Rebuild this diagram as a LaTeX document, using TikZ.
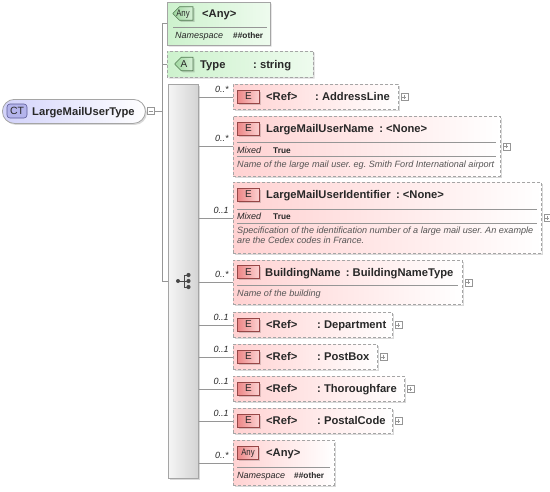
\documentclass[tikz,border=0pt]{standalone}
\usepackage{fontspec}
\setmainfont{Liberation Sans}
\newfontfamily\narrowfont[FakeStretch=0.82]{Liberation Sans}
\usetikzlibrary{shapes.misc,shadows}
\definecolor{bordergray}{RGB}{165,165,165}
\definecolor{elempink}{RGB}{255,210,210}
\definecolor{badgered}{RGB}{236,135,135}
\definecolor{badgelight}{RGB}{252,210,210}
\definecolor{badgeborder}{RGB}{150,70,70}
\definecolor{anygreen}{RGB}{205,242,205}
\definecolor{anylight}{RGB}{238,251,238}
\definecolor{greenbadge}{RGB}{160,215,160}
\definecolor{greenlight}{RGB}{215,240,215}
\definecolor{greenborder}{RGB}{80,120,80}
\definecolor{ctfill}{RGB}{210,210,250}
\definecolor{ctbadge}{RGB}{180,180,235}
\definecolor{ctborder}{RGB}{90,90,150}
\definecolor{linegray}{RGB}{150,150,150}
\definecolor{txt}{RGB}{40,40,40}
\definecolor{desctxt}{RGB}{85,85,85}
\definecolor{plusgray}{RGB}{150,150,150}
\begin{document}
\frenchspacing
\begin{tikzpicture}[x=1pt,y=-1pt,
  conn/.style={draw=linegray, line width=0.8pt},
  sepline/.style={draw=linegray, line width=0.7pt},
  shad/.style={drop shadow={shadow xshift=1.5pt, shadow yshift=-1.5pt, fill=black, opacity=0.15}},
  elembox/.style={rectangle, draw=bordergray, dash pattern=on 3pt off 2pt, line width=0.8pt,
    left color=elempink, right color=white, anchor=north west, inner sep=0pt, shad},
  ebadge/.style={rectangle, draw=badgeborder, line width=0.6pt, left color=badgered, right color=badgelight,
    minimum width=22pt, minimum height=13pt, inner sep=0pt, text depth=0pt, font=\fontsize{10}{11}\selectfont, text=txt, shad},
  gbadge/.style={chamfered rectangle, chamfered rectangle corners={north west,south west}, chamfered rectangle xsep=3pt,
    draw=greenborder, line width=0.6pt, left color=greenbadge, right color=greenlight,
    minimum height=12pt, inner sep=0pt, text depth=0pt, text=txt, shad},
  anyfont/.style={font=\narrowfont\fontsize{9.5}{10}\selectfont},
  hdr/.style={anchor=base west, inner sep=0pt, font=\bfseries\fontsize{11.2}{13}\selectfont, text=txt},
  small/.style={anchor=base west, inner sep=0pt, font=\itshape\fontsize{9}{10}\selectfont, text=txt},
  smallb/.style={anchor=base west, inner sep=0pt, font=\bfseries\fontsize{8.3}{10}\selectfont, text=txt},
  desc/.style={anchor=base west, inner sep=0pt, font=\itshape\fontsize{9.1}{11}\selectfont, text=desctxt},
  mult/.style={pos=1, anchor=south east, xshift=-4pt, yshift=4pt, inner sep=0pt, font=\itshape\fontsize{9}{10}\selectfont, text=txt},
  plusbox/.style={rectangle, draw=plusgray, line width=0.5pt, fill=white, minimum size=7pt, inner sep=0pt,
    path picture={\draw[plusgray, line width=0.5pt] ([xshift=1.5pt]path picture bounding box.west) -- ([xshift=-1.5pt]path picture bounding box.east)
      ([yshift=-1.5pt]path picture bounding box.north) -- ([yshift=1.5pt]path picture bounding box.south);}},
  minusbox/.style={rectangle, draw=plusgray, line width=0.5pt, fill=white, minimum size=7pt, inner sep=0pt,
    path picture={\draw[plusgray, line width=0.5pt] ([xshift=1.5pt]path picture bounding box.west) -- ([xshift=-1.5pt]path picture bounding box.east);}}
]
\useasboundingbox (0,0) rectangle (550,491);

% ---- complex type
\node[rectangle, rounded corners=12pt, draw=bordergray, line width=0.8pt, left color=ctfill, right color=white,
  minimum width=143pt, minimum height=24pt, anchor=north west, inner sep=0pt, shad] (ct) at (2,99) {};
\node[rectangle, rounded corners=3pt, draw=ctborder, line width=0.6pt, fill=ctbadge, minimum width=20pt, minimum height=14pt,
  inner sep=0pt, text depth=0pt, font=\fontsize{10.5}{11}\selectfont, text=txt] (ctb) at (17,111) {CT};
\node[hdr] (ctt) at (32,115) {LargeMailUserType};
\node[minusbox] (ctm) at (150.5,111) {};
\coordinate (tr) at (162,111);

% ---- any (top)
\node[chamfered rectangle, chamfered rectangle corners={north west,south west}, chamfered rectangle xsep=7pt,
  draw=bordergray, line width=0.8pt, left color=anygreen, right color=anylight, minimum width=103pt, minimum height=43pt,
  inner sep=0pt, shad] (any1) at (218.5,23.5) {};
\node[gbadge, minimum width=20pt, anyfont] (any1b) at (183,13.5) {Any};
\node[hdr] (any1t) at (202,17.3) {<Any>};
\draw[sepline] (173,27) -- (267,27);
\node[small] (any1n) at (175,38.5) {Namespace};
\node[smallb] (any1o) at (233,38.5) {\#\#other};

% ---- attribute
\node[chamfered rectangle, chamfered rectangle corners={north west,south west}, chamfered rectangle xsep=7pt,
  draw=bordergray, dash pattern=on 3pt off 2pt, line width=0.8pt, left color=anygreen, right color=anylight,
  minimum width=146pt, minimum height=26pt, inner sep=0pt, shad] (attr) at (240,64) {};
\node[gbadge, minimum width=18pt, font=\fontsize{10}{11}\selectfont] (attrb) at (184,64) {A};
\node[hdr] (attrt) at (200,68) {Type};
\node[hdr] (attrs) at (253,68) {: string};

% ---- sequence
\node[rectangle, draw=bordergray, line width=0.8pt, left color=black!4, right color=black!17, minimum width=30pt,
  minimum height=394pt, anchor=north west, inner sep=0pt, shad] (seq) at (168,84) {};
\coordinate (si) at (184,281);
\draw[txt!85, line width=1pt] (178,281) -- (184,281) (184,275) -- (184,287) (184,275) -- (188,275) (184,281) -- (188,281) (184,287) -- (188,287);
\fill[txt!85] (178,281) circle (2pt) (188.5,275) circle (2.1pt) (188.5,281) circle (2.1pt) (188.5,287) circle (2.1pt);

% ---- trunk connectors
\draw[conn] (ctm.east) -- (tr);
\draw[conn] (any1.west) -- (any1.west -| tr) -- (si -| tr) -- (si -| seq.west);
\draw[conn] (attr.west) -- (attr.west -| tr);

% ---- e1 AddressLine
\node[elembox, minimum width=165pt, minimum height=25pt] (e1) at (233,84) {};
\node[ebadge] (e1b) at (248.5,96.5) {E};
\node[hdr] at (266,100.5) {<Ref>};
\node[hdr] at (315,100.5) {: AddressLine};
\node[plusbox] (e1p) at ([xshift=5.5pt]e1.east) {};
\draw[conn] (e1.west -| seq.east) -- node[mult]{0..*} (e1.west);

% ---- e2 LargeMailUserName
\node[elembox, minimum width=267pt, minimum height=60pt] (e2) at (233,116) {};
\node[ebadge] (e2b) at (248.5,128.5) {E};
\node[hdr] (e2n) at (266,132.5) {LargeMailUserName};
\node[hdr] at ([xshift=5pt]e2n.base east) {: <None>};
\draw[sepline] (237,142.5) -- (496,142.5);
\node[small] at (237,153.3) {Mixed};
\node[smallb] at (273,153.3) {True};
\draw[sepline] (237,156.5) -- (496,156.5);
\node[desc] at (237,167.5) {Name of the large mail user. eg. Smith Ford International airport};
\node[plusbox] (e2p) at ([xshift=5.5pt]e2.east) {};
\draw[conn] (e2.west -| seq.east) -- node[mult]{0..*} (e2.west);

% ---- e3 LargeMailUserIdentifier
\node[elembox, minimum width=308pt, minimum height=71pt] (e3) at (233,182) {};
\node[ebadge] (e3b) at (248.5,194.5) {E};
\node[hdr] (e3n) at (266,198.5) {LargeMailUserIdentifier};
\node[hdr] at ([xshift=5pt]e3n.base east) {: <None>};
\draw[sepline] (237,209) -- (537,209);
\node[small] at (237,219.8) {Mixed};
\node[smallb] at (273,219.8) {True};
\draw[sepline] (237,223) -- (537,223);
\node[desc] at (237,233.5) {Specification of the identification number of a large mail user. An example};
\node[desc] at (237,243.5) {are the Cedex codes in France.};
\node[plusbox] (e3p) at ([xshift=5.5pt]e3.east) {};
\draw[conn] (e3.west -| seq.east) -- node[mult]{0..1} (e3.west);

% ---- e4 BuildingName
\node[elembox, minimum width=229pt, minimum height=44pt] (e4) at (233,260) {};
\node[ebadge] (e4b) at (248.5,272) {E};
\node[hdr] (e4n) at (265,276) {BuildingName};
\node[hdr] at ([xshift=5pt]e4n.base east) {: BuildingNameType};
\draw[sepline] (237,285.5) -- (458,285.5);
\node[desc] at (237,296.5) {Name of the building};
\node[plusbox] (e4p) at ([xshift=5.5pt]e4.east) {};
\draw[conn] (e4.west -| seq.east) -- node[mult]{0..*} (e4.west);

% ---- e5 Department
\node[elembox, minimum width=159pt, minimum height=25pt] (e5) at (233,312) {};
\node[ebadge] (e5b) at (248.5,324.5) {E};
\node[hdr] at (266,328.5) {<Ref>};
\node[hdr] at (317,328.5) {: Department};
\node[plusbox] (e5p) at ([xshift=5.5pt]e5.east) {};
\draw[conn] (e5.west -| seq.east) -- node[mult]{0..1} (e5.west);

% ---- e6 PostBox
\node[elembox, minimum width=144pt, minimum height=25pt] (e6) at (233,344) {};
\node[ebadge] (e6b) at (248.5,356.5) {E};
\node[hdr] at (266,360.5) {<Ref>};
\node[hdr] at (317,360.5) {: PostBox};
\node[plusbox] (e6p) at ([xshift=5.5pt]e6.east) {};
\draw[conn] (e6.west -| seq.east) -- node[mult]{0..1} (e6.west);

% ---- e7 Thoroughfare
\node[elembox, minimum width=171pt, minimum height=25pt] (e7) at (233,376) {};
\node[ebadge] (e7b) at (248.5,388.5) {E};
\node[hdr] at (266,392.5) {<Ref>};
\node[hdr] at (317,392.5) {: Thoroughfare};
\node[plusbox] (e7p) at ([xshift=5.5pt]e7.east) {};
\draw[conn] (e7.west -| seq.east) -- node[mult]{0..1} (e7.west);

% ---- e8 PostalCode
\node[elembox, minimum width=159pt, minimum height=25pt] (e8) at (233,408) {};
\node[ebadge] (e8b) at (248.5,420.5) {E};
\node[hdr] at (266,424.5) {<Ref>};
\node[hdr] at (317,424.5) {: PostalCode};
\node[plusbox] (e8p) at ([xshift=5.5pt]e8.east) {};
\draw[conn] (e8.west -| seq.east) -- node[mult]{0..1} (e8.west);

% ---- e9 Any
\node[elembox, minimum width=101pt, minimum height=45pt] (e9) at (233,440) {};
\node[ebadge, minimum width=21pt, minimum height=13pt, anyfont] (e9b) at (248,452.5) {Any};
\node[hdr] at (266,456.5) {<Any>};
\draw[sepline] (237,467.5) -- (330,467.5);
\node[small] at (237,478.5) {Namespace};
\node[smallb] at (294,478.5) {\#\#other};
\draw[conn] (e9.west -| seq.east) -- node[mult]{0..*} (e9.west);
\end{tikzpicture}
\end{document}
